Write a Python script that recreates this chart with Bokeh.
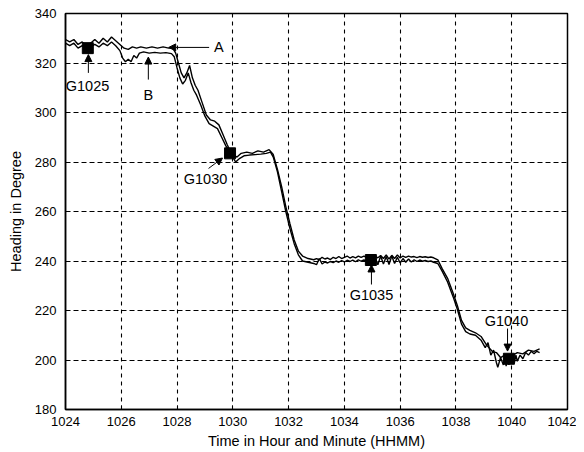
from bokeh.plotting import figure
from bokeh.models import Arrow, NormalHead, Label, FixedTicker, Range1d
from bokeh.embed import file_html
from bokeh.resources import INLINE

# ---- data (time in HHMM as decimal minutes, heading in degrees) ----
time_a = [1024.00, 1024.15, 1024.30, 1024.45, 1024.60, 1024.75, 1024.90, 1025.05, 1025.20, 1025.35,
          1025.50, 1025.65, 1025.80, 1025.95, 1026.10, 1026.25, 1026.40, 1026.55, 1026.70, 1026.90,
          1027.10, 1027.30, 1027.50, 1027.70, 1027.85, 1027.95, 1028.05, 1028.15, 1028.25, 1028.35,
          1028.45, 1028.55, 1028.65, 1028.75, 1028.90, 1029.05, 1029.20, 1029.35, 1029.50, 1029.65,
          1029.80, 1029.90, 1030.00, 1030.15, 1030.30, 1030.50, 1030.70, 1030.90, 1031.10, 1031.30,
          1031.45, 1031.60, 1031.75, 1031.90, 1032.05, 1032.20, 1032.35, 1032.50, 1032.70, 1032.90,
          1033.00, 1033.10, 1033.20, 1033.30, 1033.40, 1033.50, 1033.60, 1033.70, 1033.80, 1033.90,
          1034.00, 1034.10, 1034.20, 1034.30, 1034.40, 1034.50, 1034.60, 1034.70, 1034.80, 1034.90,
          1035.00, 1035.10, 1035.20, 1035.30, 1035.40, 1035.50, 1035.60, 1035.70, 1035.80, 1035.90,
          1036.00, 1036.10, 1036.20, 1036.30, 1036.40, 1036.50, 1036.60, 1036.70, 1036.80, 1036.90,
          1037.00, 1037.10, 1037.20, 1037.35, 1037.50, 1037.70, 1037.90, 1038.05, 1038.20, 1038.35,
          1038.50, 1038.70, 1038.90, 1039.10, 1039.30, 1039.45, 1039.60, 1039.75, 1039.90, 1040.05,
          1040.20, 1040.40, 1040.60, 1040.80, 1041.00]
heading_a = [329.5, 328.5, 329.5, 327.5, 328.5, 327.0, 328.0, 329.5, 328.0, 330.0,
             328.5, 330.5, 329.0, 327.5, 326.0, 325.5, 326.5, 326.0, 326.5, 326.0,
             326.5, 326.0, 326.5, 326.0, 326.0, 324.0, 320.0, 316.0, 314.0, 316.0,
             319.0, 314.0, 311.0, 309.0, 304.0, 299.0, 297.0, 296.5, 295.0, 291.0,
             287.0, 284.5, 283.0, 282.0, 283.5, 284.0, 283.5, 284.5, 284.0, 285.0,
             283.0, 277.0, 270.0, 262.0, 255.0, 248.5, 244.0, 242.0, 241.0, 240.5,
             241.0, 240.5, 241.5, 240.8, 241.2, 240.6, 241.5, 241.0, 241.8, 241.0,
             241.5, 242.0, 241.2, 241.8, 241.3, 242.0, 241.5, 242.0, 241.5, 241.8,
             241.5, 242.0, 241.3, 242.2, 241.0, 242.5, 240.8, 242.3, 241.0, 242.4,
             241.2, 242.0, 241.5, 242.0, 241.6, 241.8, 241.4, 241.8, 241.5, 241.7,
             241.4, 241.6, 241.3, 240.5, 237.0, 233.0, 227.0, 222.0, 216.0, 213.0,
             212.0, 211.0, 209.5, 206.0, 203.5, 203.0, 201.0, 202.0, 201.5, 202.0,
             203.0, 202.5, 204.0, 203.5, 204.5]

time_b = [1024.00, 1024.15, 1024.30, 1024.45, 1024.60, 1024.75, 1024.90, 1025.05, 1025.20, 1025.35,
          1025.50, 1025.65, 1025.80, 1025.95, 1026.05, 1026.15, 1026.25, 1026.35, 1026.45, 1026.55,
          1026.65, 1026.80, 1027.00, 1027.20, 1027.40, 1027.60, 1027.80, 1027.90, 1028.00, 1028.10,
          1028.20, 1028.30, 1028.40, 1028.50, 1028.60, 1028.70, 1028.85, 1029.00, 1029.15, 1029.30,
          1029.45, 1029.60, 1029.75, 1029.90, 1030.00, 1030.10, 1030.25, 1030.40, 1030.60, 1030.80,
          1031.00, 1031.20, 1031.35, 1031.45, 1031.60, 1031.75, 1031.90, 1032.05, 1032.20, 1032.35,
          1032.50, 1032.70, 1032.90, 1033.00, 1033.10, 1033.20, 1033.30, 1033.40, 1033.50, 1033.60,
          1033.70, 1033.80, 1033.90, 1034.00, 1034.10, 1034.20, 1034.30, 1034.40, 1034.50, 1034.60,
          1034.70, 1034.80, 1034.90, 1035.00, 1035.10, 1035.20, 1035.30, 1035.40, 1035.50, 1035.60,
          1035.70, 1035.80, 1035.90, 1036.00, 1036.10, 1036.20, 1036.30, 1036.40, 1036.50, 1036.60,
          1036.70, 1036.80, 1036.90, 1037.00, 1037.10, 1037.20, 1037.35, 1037.50, 1037.70, 1037.90,
          1038.05, 1038.20, 1038.35, 1038.50, 1038.70, 1038.90, 1039.05, 1039.15, 1039.25, 1039.35,
          1039.45, 1039.50, 1039.60, 1039.70, 1039.75, 1039.80, 1039.85, 1039.90, 1039.95, 1040.00,
          1040.05, 1040.10, 1040.15, 1040.20, 1040.30, 1040.40, 1040.50, 1040.60, 1040.70, 1040.80,
          1040.90, 1041.00]
heading_b = [328.0, 327.0, 328.0, 326.0, 327.0, 326.0, 326.5, 327.5, 326.5, 328.0,
             327.0, 328.5, 327.0, 325.0, 322.0, 320.5, 321.5, 320.5, 323.0, 322.0,
             324.0, 324.5, 324.0, 324.3, 324.0, 324.2, 323.8, 322.5, 318.0, 314.0,
             311.5, 313.0, 316.0, 312.0, 309.0, 307.0, 303.0, 298.5, 295.5, 294.5,
             293.5, 290.0, 286.5, 284.0, 282.0, 280.0, 281.5, 282.5, 282.8, 283.0,
             283.2, 283.5, 284.0, 282.0, 276.0, 268.0, 260.0, 253.0, 247.0, 242.5,
             240.0, 239.5, 239.0, 238.5, 241.0, 238.8, 239.6, 239.2, 239.8, 239.3,
             240.0, 239.5, 240.2, 239.6, 240.3, 239.8, 240.4, 239.7, 240.5, 239.9,
             240.4, 240.0, 240.6, 240.2, 241.5, 238.5, 242.0, 238.8, 241.8, 238.6,
             242.0, 239.0, 241.5, 239.2, 241.0, 239.5, 240.8, 239.6, 240.5, 239.8,
             240.4, 239.9, 240.2, 239.8, 240.0, 239.5, 239.0, 236.0, 231.5, 225.5,
             220.5, 214.5, 211.5, 210.5, 210.0, 208.0, 205.0, 207.0, 202.0, 204.0,
             199.0, 197.0, 201.0, 198.0, 202.0, 197.5, 201.0, 198.0, 202.0, 198.5,
             201.5, 199.0, 202.0, 199.5, 202.0, 200.5, 203.0, 202.0, 203.5, 202.5,
             203.5, 203.0]

marker_time = [1024.8, 1029.9, 1034.95, 1039.9]
marker_heading = [326.0, 283.5, 240.4, 200.5]

x_ticks = [1024, 1026, 1028, 1030, 1032, 1034, 1036, 1038, 1040, 1042]
y_ticks = [180, 200, 220, 240, 260, 280, 300, 320, 340]

FONT = "Liberation Sans"

p = figure(width=576, height=452, output_backend="svg", toolbar_location=None,
           x_range=Range1d(1024, 1042), y_range=Range1d(180, 340),
           min_border_left=65, min_border_right=9, min_border_top=13, min_border_bottom=43)
p.background_fill_color = "white"
p.border_fill_color = "white"
p.outline_line_color = "black"
p.outline_line_width = 1.5

for ax in (p.xaxis[0], p.yaxis[0]):
    ax.major_label_text_font = FONT
    ax.major_label_text_font_size = "13px"
    ax.major_label_text_color = "black"
    ax.axis_label_text_font = FONT
    ax.axis_label_text_font_size = "14.5px"
    ax.axis_label_text_font_style = "normal"
    ax.axis_label_text_color = "black"
    ax.axis_line_color = "black"
    ax.axis_line_width = 1.5
    ax.major_tick_in = 4
    ax.major_tick_out = 0
    ax.minor_tick_line_color = None
    ax.major_tick_line_color = "black"

p.xaxis.ticker = FixedTicker(ticks=x_ticks)
p.yaxis.ticker = FixedTicker(ticks=y_ticks)
p.xaxis.axis_label = "Time in Hour and Minute (HHMM)"
p.yaxis.axis_label = "Heading in Degree"
p.xaxis.major_label_standoff = 7
p.xaxis.axis_label_standoff = 4
p.yaxis.major_label_standoff = 9
p.yaxis.axis_label_standoff = 8

p.ygrid[0].grid_line_color = "black"
p.ygrid[0].grid_line_dash = "5 3"
p.ygrid[0].grid_line_width = 1.1
p.xgrid[0].grid_line_color = "black"
p.xgrid[0].grid_line_dash = "4 4"
p.xgrid[0].grid_line_width = 1.1

p.line(time_a, heading_a, line_color="black", line_width=1.4)
p.line(time_b, heading_b, line_color="black", line_width=1.4)
p.scatter(marker_time, marker_heading, marker="square", size=11, color="black")

def arrow(x0, y0, x1, y1):
    p.add_layout(Arrow(end=NormalHead(size=7, fill_color="black", line_color="black"),
                       x_start=x0, y_start=y0, x_end=x1, y_end=y1,
                       line_color="black", line_width=1))

arrow(1024.82, 316.0, 1024.82, 323.4)   # G1025
arrow(1026.97, 313.3, 1026.97, 322.4)   # B
arrow(1029.15, 326.3, 1027.7, 326.3)    # A
arrow(1029.13, 277.4, 1029.63, 281.6)   # G1030
arrow(1034.97, 230.5, 1034.97, 238.4)   # G1035
arrow(1039.85, 212.7, 1039.85, 203.6)   # G1040

def label(x, y, t):
    p.add_layout(Label(x=x, y=y, text=t, text_font=FONT, text_font_size="14.5px",
                       text_color="black", text_align="center", text_baseline="middle"))

label(1024.79, 310.9, "G1025")
label(1026.97, 306.9, "B")
label(1029.5, 326.3, "A")
label(1029.02, 273.3, "G1030")
label(1034.97, 226.1, "G1035")
label(1039.81, 215.6, "G1040")

open("out.html", "w").write(file_html(p, INLINE))
